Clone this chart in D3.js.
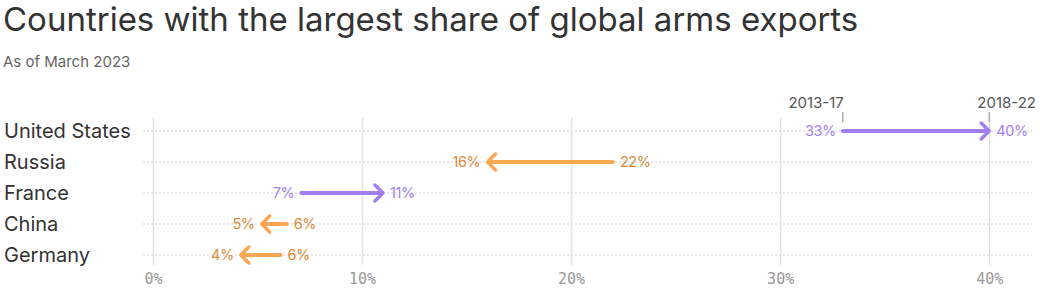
<!DOCTYPE html>
<html>
<head>
<meta charset="utf-8">
<script src="https://d3js.org/d3.v7.min.js"></script>
<style>
  body{margin:0;background:#fff;}
  svg{display:block;}
</style>
</head>
<body>
<svg id="chart" width="1040" height="295"></svg>
<script>
"use strict";
// data
var countries = ["United States","Russia","France","China","Germany"];
var share2013 = [33.0, 22.0, 7.1, 6.4, 6.1];
var share2018 = [40.0, 16.0, 11.0, 5.2, 4.2];
var xTicks = [0, 10, 20, 30, 40];
var periods = ["2013-17","2018-22"];

var colours = {up:"#a27ff3", upText:"#a27ff3", down:"#f9a752", downText:"#d98b3a",
               text:"#333", sub:"#666", tick:"#999", grid:"#e3e3e3", dots:"#d0d0d0"};

var svg = d3.select("#chart");

var x = d3.scaleLinear().domain([0, 42]).range([153, 1031]);
var y = d3.scalePoint().domain(countries).range([131, 255]);

//Title
svg.append("text").attr("x",3).attr("y",31)
    .style("font-family","Inter, 'Noto Sans', sans-serif").style("font-size","33px")
    .style("fill",colours.text)
    .text("Countries with the largest share of global arms exports");
svg.append("text").attr("x",3).attr("y",67)
    .style("font-family","Inter, 'Noto Sans', sans-serif").style("font-size","15px")
    .style("fill",colours.sub)
    .text("As of March 2023");

//horizontal dotted lines
svg.append("g").selectAll("line").data(countries).enter().append("line")
    .attr("x1",143).attr("x2",1032)
    .attr("y1",d=>y(d)).attr("y2",d=>y(d))
    .style("stroke",colours.dots).style("stroke-width",1)
    .style("stroke-dasharray","2,2");

//x axis
var xAxis = svg.append("g").attr("transform","translate(0,118)")
    .call(d3.axisBottom(x).tickValues(xTicks).tickFormat(d=>d+"%").tickSize(147).tickPadding(0));
xAxis.select(".domain").remove();
xAxis.selectAll(".tick line").style("stroke",colours.grid).style("stroke-width",1.5);
xAxis.selectAll(".tick text").attr("y",161).attr("dy","0.35em")
    .style("font-family","'DejaVu Sans Mono', monospace").style("font-size","15px")
    .style("fill",colours.tick);

//period markers on US row
var us = 0;
[share2013[us], share2018[us]].forEach(function(v,i){
    svg.append("line").attr("x1",x(v)).attr("x2",x(v)).attr("y1",112).attr("y2",122)
        .style("stroke","#999").style("stroke-width",1.2);
    svg.append("text")
        .attr("x", i === 0 ? x(v) + 1 : 1036)
        .attr("y",108)
        .attr("text-anchor","end")
        .style("font-family","Inter, 'Noto Sans', sans-serif").style("font-size","15px")
        .style("fill","#555")
        .text(periods[i]);
});

//country labels
svg.append("g").selectAll("text").data(countries).enter().append("text")
    .attr("x",4).attr("y",d=>y(d)).attr("dy","0.35em")
    .style("font-family","Inter, 'Noto Sans', sans-serif").style("font-size","20px")
    .style("fill",colours.text)
    .text(d=>d);

//arrows
var rows = countries.map((c,i)=>({c:c, a:share2013[i], b:share2018[i]}));
var g = svg.append("g").selectAll("g").data(rows).enter().append("g");

g.append("line")
    .attr("x1",d=>x(d.a)).attr("x2",d=>x(d.b) + (d.b > d.a ? -2 : 2))
    .attr("y1",d=>y(d.c)).attr("y2",d=>y(d.c))
    .style("stroke",d=>d.b > d.a ? colours.up : colours.down)
    .style("stroke-width",4).style("stroke-linecap","round");

g.append("path")
    .attr("d",function(d){
        var dir = d.b > d.a ? 1 : -1, tx = x(d.b), ty = y(d.c);
        return "M" + (tx - dir*8) + "," + (ty - 8) + "L" + tx + "," + ty + "L" + (tx - dir*8) + "," + (ty + 8);
    })
    .style("fill","none")
    .style("stroke",d=>d.b > d.a ? colours.up : colours.down)
    .style("stroke-width",3.5).style("stroke-linecap","round").style("stroke-linejoin","round");

//value labels
function lab(sel, key, isEnd){
    sel.append("text")
        .attr("x",function(d){
            var v = d[key], right = (d.b > d.a) === isEnd;
            return right ? x(v) + 7 : x(v) - 7;
        })
        .attr("y",d=>y(d.c)).attr("dy","0.35em")
        .attr("text-anchor",d=>((d.b > d.a) === isEnd) ? "start" : "end")
        .style("font-family","Inter, 'Noto Sans', sans-serif").style("font-size","14.5px")
        .style("letter-spacing","-0.4px")
        .style("fill",d=>d.b > d.a ? colours.upText : colours.downText)
        .text(d=>Math.round(d[key]) + "%");
}
lab(g,"a",false);
lab(g,"b",true);
</script>
</body>
</html>
